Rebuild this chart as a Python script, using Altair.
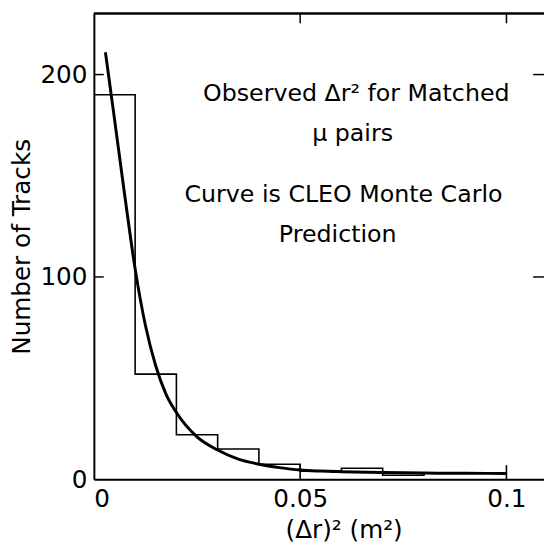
import altair as alt
import pandas as pd

# Histogram (bin edges and observed counts)
bin_left = [0.0, 0.01, 0.02, 0.03, 0.04, 0.05, 0.06, 0.07, 0.08, 0.09]
counts = [190, 52, 22, 15, 7.5, 4, 5.5, 2, 3, 3]
hist_end = 0.1

# Monte Carlo prediction curve
curve_x = [0.0028, 0.005, 0.0075, 0.01, 0.0125, 0.015, 0.0175, 0.02, 0.025, 0.03,
           0.035, 0.04, 0.045, 0.05, 0.055, 0.06, 0.07, 0.08, 0.09, 0.1]
curve_y = [211, 178, 140, 104, 76, 56, 42, 33, 21, 14.5,
           10, 7.5, 5.8, 4.6, 4.1, 3.8, 3.4, 3.1, 3.0, 2.9]

# vertical drops of the histogram outline to the baseline
drop_x = [0.05, 0.1]
drop_top = [7.5, 7]

# inward tick marks
y_ticks = [100, 200]
top_ticks = [0.05, 0.1]

# annotation
note_lines = ["Observed \u0394r\u00b2 for Matched", "\u03bc  pairs",
              "Curve is CLEO Monte Carlo", "Prediction"]
note_x = [0.0636, 0.0627, 0.0605, 0.0591]
note_y = [190.5, 170.5, 140.5, 120.5]

W, H = 456, 472
XMAX, YMAX = 0.1091, 230.2
FONT = "DejaVu Sans"

xs = alt.Scale(domain=[0, XMAX], nice=False, zero=False)
ys = alt.Scale(domain=[0, YMAX], nice=False)

hist_df = pd.DataFrame({"x": bin_left + [hist_end], "y": counts + [counts[-1]]})
curve_df = pd.DataFrame({"x": curve_x, "y": curve_y})
drop_df = pd.DataFrame({"x": drop_x, "y": [0, 0], "y2": drop_top})
ytick_df = pd.DataFrame({"y": y_ticks})
ttick_df = pd.DataFrame({"x": top_ticks})
note_df = pd.DataFrame({"t": note_lines, "x": note_x, "y": note_y})

x_axis = alt.Axis(values=[0, 0.05, 0.1], format="~g", ticks=False, grid=False,
                  domainColor="black", domainWidth=2, labelFont=FONT, labelFontSize=25,
                  labelColor="black", labelPadding=7, title="(\u0394r)\u00b2 (m\u00b2)",
                  titleFont=FONT, titleFontSize=25, titleFontWeight="normal",
                  titleColor="black", titlePadding=7, titleX=253)
y_axis = alt.Axis(values=[0, 100, 200], ticks=False, grid=False,
                  domainColor="black", domainWidth=2, labelFont=FONT, labelFontSize=25,
                  labelColor="black", labelPadding=7, title="Number of Tracks",
                  titleFont=FONT, titleFontSize=25, titleFontWeight="normal",
                  titleColor="black", titlePadding=6)

hist = alt.Chart(hist_df).mark_line(interpolate="step-after", color="black",
                                    strokeWidth=1.6).encode(
    x=alt.X("x:Q", scale=xs, axis=x_axis),
    y=alt.Y("y:Q", scale=ys, axis=y_axis),
)

drops = alt.Chart(drop_df).mark_rule(color="black", strokeWidth=1.6).encode(
    x=alt.X("x:Q", scale=xs), y=alt.Y("y:Q", scale=ys), y2="y2:Q")

curve = alt.Chart(curve_df).mark_line(interpolate="monotone", color="black",
                                      strokeWidth=3).encode(
    x=alt.X("x:Q", scale=xs), y=alt.Y("y:Q", scale=ys))

left_ticks = alt.Chart(ytick_df).mark_rule(color="black", strokeWidth=1.5).encode(
    y=alt.Y("y:Q", scale=ys), x=alt.value(0), x2=alt.value(10))
right_ticks = alt.Chart(ytick_df).mark_rule(color="black", strokeWidth=1.5).encode(
    y=alt.Y("y:Q", scale=ys), x=alt.value(W - 11), x2=alt.value(W))
top_tick_marks = alt.Chart(ttick_df).mark_rule(color="black", strokeWidth=1.5).encode(
    x=alt.X("x:Q", scale=xs), y=alt.value(0), y2=alt.value(10))
top_border = alt.Chart(ttick_df).mark_rule(color="black", strokeWidth=2).encode(
    x=alt.value(0), x2=alt.value(W), y=alt.value(0))

notes = alt.Chart(note_df).mark_text(font=FONT, fontSize=24, color="black",
                                     align="center", baseline="middle").encode(
    x=alt.X("x:Q", scale=xs), y=alt.Y("y:Q", scale=ys), text="t:N")

chart = alt.layer(hist, drops, curve, left_ticks, right_ticks, top_tick_marks,
                  top_border, notes).properties(
    width=W, height=H,
    autosize=alt.AutoSizeParams(type="none"),
    padding={"left": 87, "top": 2, "right": 0, "bottom": 64},
    background="white",
).configure_view(stroke=None)

chart.save("out.html", embed_options={"renderer": "svg", "actions": False})
